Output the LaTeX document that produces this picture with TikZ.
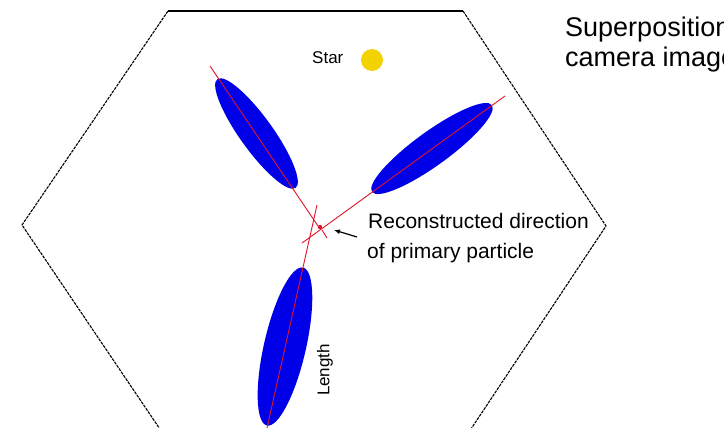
\documentclass[tikz,border=0pt]{standalone}
\usepackage{fontspec}
\setmainfont{Liberation Sans}
\usetikzlibrary{arrows.meta}
\definecolor{shower}{RGB}{0,0,232}
\definecolor{axisred}{RGB}{225,20,40}
\definecolor{stargold}{RGB}{242,210,0}
\begin{document}
\begin{tikzpicture}[x=1pt,y=-1pt,
  topedge/.style={line width=1.4pt, black},
  sideedge/.style={line width=1.1pt, black, dash pattern=on 3pt off 1pt},
  showerfill/.style={fill=shower},
  axisline/.style={axisred, line width=0.9pt},
  bigtext/.style={anchor=base west, inner sep=0pt, font=\fontsize{27}{30}\selectfont},
  labeltext/.style={anchor=base west, inner sep=0pt, font=\fontsize{21}{24}\selectfont},
  smalltext/.style={inner sep=0pt, font=\fontsize{17}{20}\selectfont}]
\useasboundingbox (0,0) rectangle (724,428);
\fill[white] (0,0) rectangle (724,428);
\clip (0,0) rectangle (724,428);
% camera hexagon
\coordinate (h1) at (168,11);
\coordinate (h2) at (463,11);
\coordinate (h3) at (606,226);
\coordinate (h4) at (463,441);
\coordinate (h5) at (168,441);
\coordinate (h6) at (22,225);
\draw[topedge] (h1) -- (h2);
\draw[sideedge] (h2) -- (h3) -- (h4) -- (h5) -- (h6) -- (h1);
% star
\fill[stargold] (372,60) circle[radius=11];
\node[smalltext, anchor=base west] (starlbl) at (312,64) {Star};
% shower images
\coordinate (e1) at (256.5,133.5);
\coordinate (e2) at (432,148.5);
\coordinate (e3) at (285,346.5);
\fill[showerfill, rotate around={-54.3:(e1)}] (e1) ellipse [x radius=67, y radius=16.5];
\fill[showerfill, rotate around={35.9:(e2)}] (e2) ellipse [x radius=74, y radius=17];
\fill[showerfill, rotate around={77.1:(e3)}] (e3) ellipse [x radius=81, y radius=21];
% image axes
\coordinate (a1s) at (210,66);
\coordinate (a1e) at (318,226);
\coordinate (a2s) at (505,96);
\coordinate (a2e) at (302,243);
\coordinate (a3s) at (267,428);
\coordinate (a3e) at (317,205);
\draw[axisline] (a1s) -- (a1e);
\draw[axisline] (a2s) -- (a2e);
\draw[axisline] (a3s) -- (a3e);
\coordinate (t1) at (322,230);
\coordinate (t2) at (327,238);
\draw[axisline] (t1) -- (t2);
\coordinate (src) at (320,227);
\fill[axisred] (src) circle[radius=2.2];
% arrow + label
\coordinate (arrtail) at (357,237);
\coordinate (arrhead) at (334,230);
\draw[-{Latex[length=6pt,width=5pt]}, line width=1.2pt] (arrtail) -- (arrhead);
\node[labeltext] (rec1) at (368,228) {Reconstructed direction};
\node[labeltext] (rec2) at (367,258) {of primary particle};
% length label
\node[smalltext, rotate=90] (len) at (325,370) {Length};
% title
\node[bigtext] (sup1) at (565,37) {Superposition of};
\node[bigtext] (sup2) at (565,67) {camera images};
\end{tikzpicture}
\end{document}
